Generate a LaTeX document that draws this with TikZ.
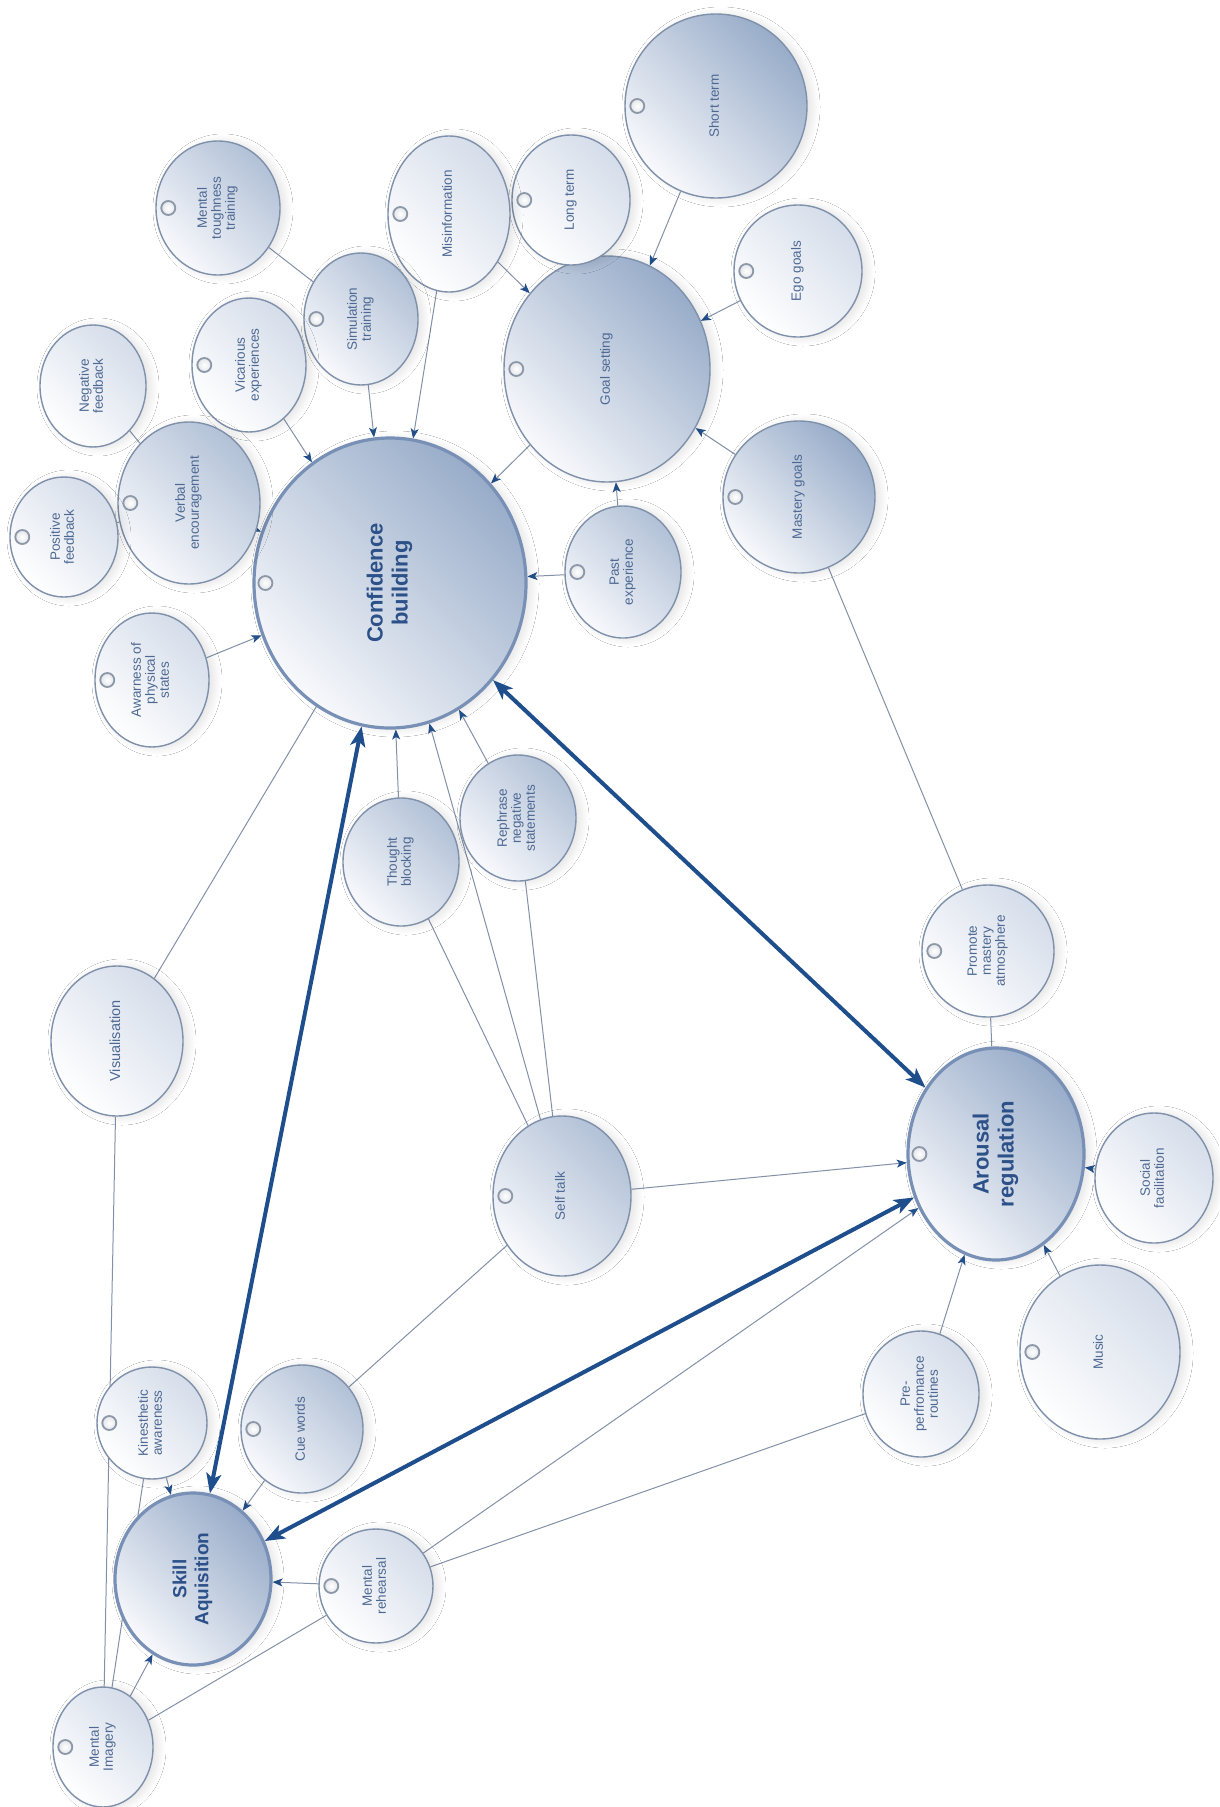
\documentclass[tikz,border=0pt]{standalone}
\usepackage{fontspec}
\setmainfont{Liberation Sans}
\usetikzlibrary{shapes.geometric,arrows.meta,backgrounds,shadows.blur}
\definecolor{edgec}{HTML}{8391A8}
\definecolor{tipc}{HTML}{23508B}
\definecolor{thickc}{HTML}{1E4E8C}
\definecolor{bordc}{HTML}{7F90AA}
\definecolor{mainbord}{HTML}{7890B5}
\definecolor{txtc}{HTML}{4D6892}
\definecolor{maintxt}{HTML}{2C5088}
\definecolor{darkfill}{HTML}{98ACC9}
\definecolor{midfill}{HTML}{B2C1D7}
\definecolor{litefill}{HTML}{D5DDEA}
\definecolor{lowfill}{HTML}{F8F9FC}
\definecolor{radioc}{HTML}{8C97A8}
\newcommand\bubtxt[1]{\rotatebox{90}{\begin{tabular}{@{}c@{}}#1\end{tabular}}}
\tikzset{
  bub/.style={ellipse, inner sep=0pt, draw=bordc, line width=1.4pt, text=txtc,
    font=\fontsize{13.5}{14}\selectfont,
    blur shadow={shadow xshift=5pt, shadow yshift=-1pt, shadow blur radius=8pt, shadow blur steps=30, shadow opacity=12}},
  darkb/.style={top color=darkfill, bottom color=lowfill, shading angle=-45},
  midb/.style={top color=midfill, bottom color=lowfill, shading angle=-45},
  liteb/.style={top color=litefill, bottom color=white, shading angle=-45},
  mainb/.style={darkb, draw=mainbord, line width=3.2pt, text=maintxt,
    font=\fontsize{22}{25}\selectfont\bfseries},
  sz/.style 2 args={minimum width=#1pt, minimum height=#2pt},
  conn/.style={draw=edgec, line width=1pt},
  connarr/.style={conn, -{Stealth[length=10pt, width=8pt, inset=2.5pt, color=tipc]}},
  bigarr/.style={draw=thickc, line width=4pt,
    {Stealth[length=20pt, width=15pt, inset=5pt]}-{Stealth[length=20pt, width=15pt, inset=5pt]}},
  radio/.style={draw=radioc, line width=1.8pt, inner color=white, outer color=white!75!radioc}
}
\begin{document}
\begin{tikzpicture}[x=1pt, y=-1pt]
\useasboundingbox (0,0) rectangle (1219,1807);
% nodes
\node[bub, mainb, sz={272}{290}] (cb) at (390,583) {\bubtxt{Confidence\\building}};
\node[bub, darkb, sz={206}{226}] (gs) at (607,369) {\bubtxt{Goal setting}};
\node[bub, darkb, sz={182}{184}] (stm) at (716,106) {\bubtxt{Short term}};
\node[bub, liteb, sz={118}{130}] (lt) at (571,200) {\bubtxt{Long term}};
\node[bub, liteb, sz={122}{156}] (mis) at (449,214) {\bubtxt{Misinformation}};
\node[bub, midb, sz={124}{134}] (mtt) at (218,208) {\bubtxt{Mental\\toughness\\training}};
\node[bub, midb, sz={114}{132}] (sim) at (361,319) {\bubtxt{Simulation\\training}};
\node[bub, liteb, sz={114}{134}] (vic) at (249,365) {\bubtxt{Vicarious\\experiences}};
\node[bub, liteb, sz={106}{122}] (neg) at (93,386) {\bubtxt{Negative\\feedback}};
\node[bub, midb, sz={142}{162}] (ve) at (189,503) {\bubtxt{Verbal\\encouragement}};
\node[bub, liteb, sz={108}{120}] (pos) at (64,537) {\bubtxt{Positive\\feedback}};
\node[bub, liteb, sz={114}{134}] (aw) at (152,680) {\bubtxt{Awarness of\\physical\\states}};
\node[bub, liteb, sz={128}{132}] (ego) at (798,271) {\bubtxt{Ego goals}};
\node[bub, darkb, sz={152}{152}] (mg) at (799,497) {\bubtxt{Mastery goals}};
\node[bub, midb, sz={116}{132}] (pe) at (623,572) {\bubtxt{Past\\experience}};
\node[bub, midb, sz={116}{128}] (tb) at (401,862) {\bubtxt{Thought\\blocking}};
\node[bub, midb, sz={116}{126}] (rn) at (518,818) {\bubtxt{Rephrase\\negative\\statements}};
\node[bub, liteb, sz={132}{150}, font=\fontsize{14.5}{15}\selectfont] (vis) at (117,1041) {\bubtxt{Visualisation}};
\node[bub, liteb, sz={132}{132}] (pma) at (988,951) {\bubtxt{Promote\\mastery\\atmosphere}};
\node[bub, mainb, sz={176}{212}] (ar) at (996,1154) {\bubtxt{Arousal\\regulation}};
\node[bub, liteb, sz={118}{130}] (sf) at (1154,1178) {\bubtxt{Social\\facilitation}};
\node[bub, midb, sz={138}{160}] (st) at (562,1196) {\bubtxt{Self talk}};
\node[bub, liteb, sz={160}{174}] (mu) at (1100,1352) {\bubtxt{Music}};
\node[bub, liteb, sz={116}{126}] (pp) at (921,1394) {\bubtxt{Pre-\\perfromance\\routines}};
\node[bub, midb, sz={122}{128}] (cw) at (302,1429) {\bubtxt{Cue words}};
\node[bub, liteb, sz={110}{112}] (ka) at (152,1423) {\bubtxt{Kinesthetic\\awareness}};
\node[bub, liteb, sz={114}{114}] (mr) at (376,1586) {\bubtxt{Mental\\rehearsal}};
\node[bub, mainb, sz={156}{172}, font=\fontsize{19}{22}\selectfont\bfseries] (sa) at (193,1579) {\bubtxt{Skill\\Aquisition}};
\node[bub, liteb, sz={100}{120}] (mi) at (103,1747) {\bubtxt{Mental\\Imagery}};
% small circles
\foreach \n in {cb,gs,stm,lt,mis,mtt,sim,vic,ve,pos,aw,ego,mg,pe,pma,ar,st,mu,cw,ka,mr,mi}
  \draw[radio] ([xshift=13pt]\n.west) circle (7pt);
% connectors
\begin{scope}[on background layer]
\fill[white] (0,0) rectangle (1219,1807);
\draw[connarr] (stm) -- (gs);
\draw[connarr] (mis) -- (gs);
\draw[connarr] (mis) -- (cb);
\draw[connarr] (ego) -- (gs);
\draw[connarr] (mg) -- (gs);
\draw[connarr] (pe) -- (gs);
\draw[connarr] (pe) -- (cb);
\draw[connarr] (gs) -- (cb);
\draw[connarr] (sim) -- (cb);
\draw[conn] (mtt) -- (sim);
\draw[connarr] (vic) -- (cb);
\draw[conn] (neg) -- (ve);
\draw[conn] (pos) -- (ve);
\draw[connarr] (ve) -- (cb);
\draw[connarr] (aw) -- (cb);
\draw[conn] (vis) -- (cb);
\draw[conn] (vis) -- (mi);
\draw[connarr] (tb) -- (cb);
\draw[connarr] (rn) -- (cb);
\draw[conn] (st) -- (tb);
\draw[connarr] (st) -- (cb);
\draw[conn] (st) -- (rn);
\draw[connarr] (st) -- (ar);
\draw[conn] (st) -- (cw);
\draw[conn] (pma) -- (mg);
\draw[conn] (pma) -- (ar);
\draw[connarr] (sf) -- (ar);
\draw[connarr] (mu) -- (ar);
\draw[connarr] (pp) -- (ar);
\draw[connarr] (mr) -- (ar);
\draw[conn] (pp) -- (mr);
\draw[connarr] (ka) -- (sa);
\draw[connarr] (cw) -- (sa);
\draw[connarr] (mr) -- (sa);
\draw[connarr] (mi) -- (sa);
\draw[conn] (mi) -- (mr);
\draw[conn] (mi) -- (ka);
\end{scope}
\draw[bigarr] (cb) -- (sa);
\draw[bigarr] (cb) -- (ar);
\draw[bigarr] (sa) -- (ar);
\end{tikzpicture}
\end{document}
